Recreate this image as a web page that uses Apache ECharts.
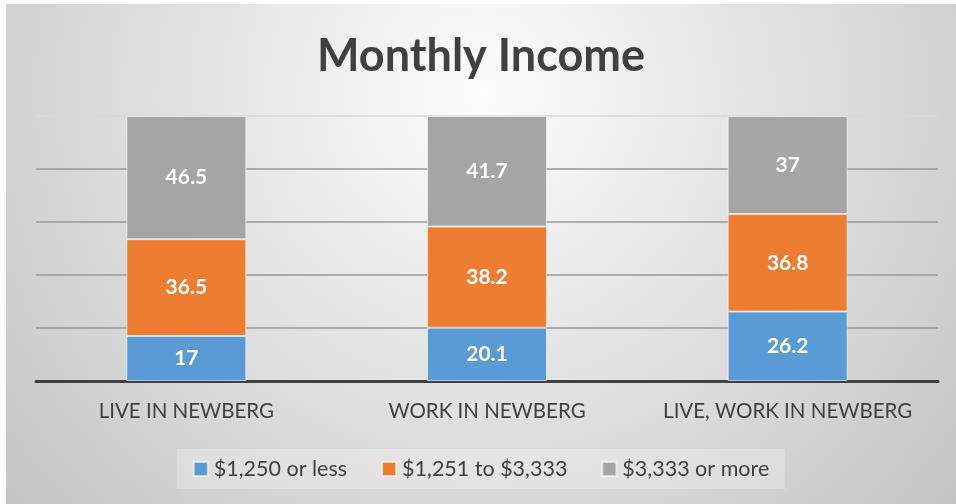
<!DOCTYPE html>
<html>
<head>
<meta charset="utf-8">
<script src="https://cdn.jsdelivr.net/npm/echarts@6/dist/echarts.min.js"></script>
<style>
  html, body { margin: 0; padding: 0; background: #fff; overflow: hidden; }
  #main { position: absolute; left: 6px; top: 4px; width: 950px; height: 500px; }
</style>
</head>
<body>
<div id="main"></div>
<script>
var categories = ['LIVE IN NEWBERG', 'WORK IN NEWBERG', 'LIVE, WORK IN NEWBERG'];
var seriesNames = ['$1,250 or less', '$1,251 to $3,333', '$3,333 or more'];
var lowIncome = [17, 20.1, 26.2];
var midIncome = [36.5, 38.2, 36.8];
var highIncome = [46.5, 41.7, 37];
var colors = ['#5b9bd5', '#ed7d31', '#a5a5a5'];

var chart = echarts.init(document.getElementById('main'));

function makeSeries(name, data, color) {
  return {
    name: name,
    type: 'bar',
    stack: 'total',
    barWidth: 120,
    data: data,
    itemStyle: { color: color, borderColor: 'rgba(255,255,255,0.6)', borderWidth: 1 },
    label: {
      show: true,
      position: 'inside',
      color: '#fff',
      fontFamily: 'Lato',
      fontWeight: 'bold',
      fontSize: 21
    }
  };
}

var option = {
  animation: false,
  backgroundColor: {
    type: 'radial', x: 0.5, y: 0.18, r: 1.3,
    colorStops: [
      { offset: 0, color: '#fdfdfd' },
      { offset: 1, color: '#c2c2c2' }
    ]
  },
  color: colors,
  title: {
    text: 'Monthly Income',
    left: 'center',
    top: 25,
    textStyle: { fontFamily: 'Lato', fontWeight: 'bold', fontSize: 45, color: '#404040' }
  },
  legend: {
    bottom: 15,
    left: 'center',
    itemWidth: 14,
    itemHeight: 14,
    itemGap: 34,
    padding: [9, 16],
    backgroundColor: 'rgba(255,255,255,0.25)',
    icon: 'rect',
    textStyle: { fontFamily: 'Lato', fontSize: 21.5, color: '#404040', padding: [0, 0, 0, 1] },
    data: seriesNames
  },
  grid: { left: 30, right: 18, top: 112, bottom: 123 },
  xAxis: {
    type: 'category',
    data: categories,
    axisLine: { lineStyle: { color: '#404040', width: 3 } },
    axisTick: { show: false },
    axisLabel: { interval: 0, margin: 20, fontFamily: 'Lato', fontSize: 20.5, color: '#404040' }
  },
  yAxis: {
    type: 'value',
    min: 0,
    max: 100,
    interval: 20,
    axisLabel: { show: false },
    axisLine: { show: false },
    axisTick: { show: false },
    splitLine: { lineStyle: { color: ['#999', '#999', '#999', '#999', '#999', '#d9d9d9'], width: 1.5 } }
  },
  series: [
    makeSeries(seriesNames[0], lowIncome, colors[0]),
    makeSeries(seriesNames[1], midIncome, colors[1]),
    makeSeries(seriesNames[2], highIncome, colors[2])
  ]
};

chart.setOption(option);
window.addEventListener('resize', chart.resize);
</script>
</body>
</html>
